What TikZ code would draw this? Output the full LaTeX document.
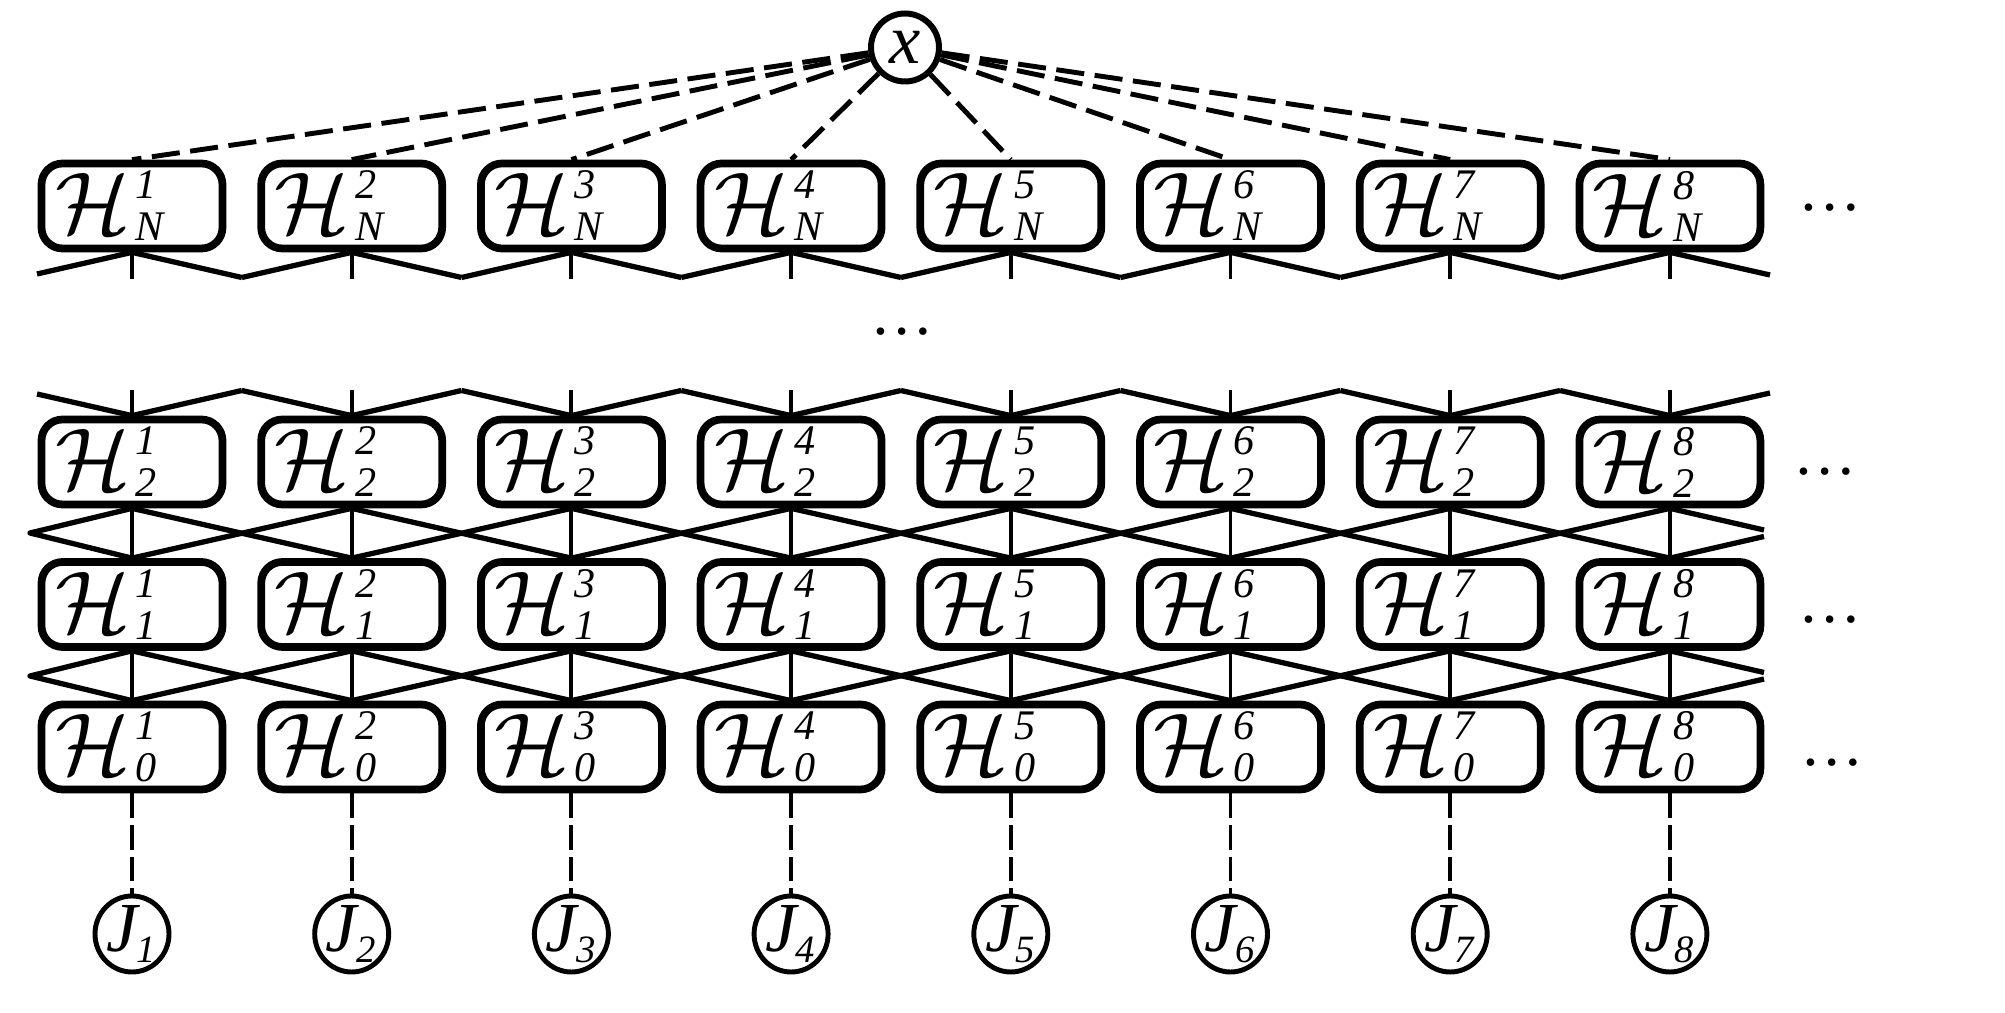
\RequirePackage{fix-cm}
\documentclass[tikz,border=0pt]{standalone}
\usepackage{amsmath}
\usepackage{fontspec}
\setmainfont{Liberation Serif}
\usetikzlibrary{shapes.geometric}
\DeclareMathSizes{20}{20}{11}{8}
\newcommand{\scriptlab}{\fontsize{12}{12}\selectfont\itshape}
\newcommand{\Hlab}[2]{\makebox[1.7cm][l]{\hspace{0.08cm}\raisebox{-0.05cm}{$\mathcal{H}$\kern1.5pt\rlap{\raisebox{0.35cm}{\scriptlab #1}}\raisebox{-0.07cm}{\scriptlab #2}}}}
\tikzset{
    hbox/.style={draw, rectangle, rounded corners=6pt, line width=2.2pt, minimum width=1.81cm, minimum height=0.85cm, inner sep=0pt, font=\fontsize{25}{29}\selectfont},
    xnode/.style={draw, circle, line width=1.7pt, minimum size=0.68cm, inner sep=0pt, font=\fontsize{20}{24}\selectfont\itshape},
    jnode/.style={draw, ellipse, line width=1.4pt, minimum width=0.74cm, minimum height=0.76cm, inner sep=-0.07cm, font=\fontsize{20}{24}\selectfont},
    dotsbox/.style={inner sep=0pt, font=\fontsize{18}{20}\selectfont},
    xdash/.style={line width=1.4pt, dash pattern=on 8pt off 3pt},
    jdash/.style={line width=1.1pt, dash pattern=on 7pt off 2pt},
    vlink/.style={line width=1.1pt},
    xlink/.style={line width=1.5pt, line join=round},
}
\begin{document}
\begin{tikzpicture}
    \useasboundingbox (0,0) rectangle (20.05,10.13);

    % === input ===
    \node[xnode] (x) at (9.05, 9.655) {x};

    % === layers N, 2, 1, 0 ===
    \foreach \r/\y in {N/8.07, 2/5.51, 1/4.085, 0/2.66} {
        \foreach \i in {1,...,8} {
            \node[hbox] (h\r-\i) at ({1.32+2.197*(\i-1)}, \y) {\Hlab{\i}{\r}};
        }
    }

    % dots
    \node[dotsbox] (dN) at (18.30, 8.05) {\dots};
    \node[dotsbox] (dmid) at (9.02, 6.81) {\dots};
    \node[dotsbox] (d2) at (18.25, 5.41) {\dots};
    \node[dotsbox] (d1) at (18.30, 3.93) {\dots};
    \node[dotsbox] (d0) at (18.32, 2.50) {\dots};

    % x to top layer
    \foreach \i in {1,...,8} \draw[xdash] (x) -- (hN-\i.north);

    % === outputs ===
    \foreach \i in {1,...,8} {
        \node[jnode] (J\i) at ({1.32+2.197*(\i-1)}, 0.79) {\textit{J}\kern-1pt$_{\text{\itshape\i}}$};
        \draw[jdash] (h0-\i.south) -- (J\i);
    }

    % cut ends below layer N and above layer 2
    \foreach \i in {1,...,8} {
        \coordinate (tN-\i) at ({1.32+2.197*(\i-1)}, 7.34);
        \coordinate (t2-\i) at ({1.32+2.197*(\i-1)}, 6.23);
    }
    \foreach \i in {1,...,7} {
        \coordinate (mN-\i) at ({1.32+2.197*(\i-0.5)}, 7.355);
        \coordinate (m2-\i) at ({1.32+2.197*(\i-0.5)}, 6.225);
    }
    \coordinate (mN-0) at (0.37, 7.39);
    \coordinate (mN-8) at (17.70, 7.38);
    \coordinate (m2-0) at (0.37, 6.19);
    \coordinate (m2-8) at (17.70, 6.20);
    \coordinate (L2) at (0.30, 4.80);
    \coordinate (L1) at (0.30, 3.37);
    \coordinate (Ra2) at (17.64, 4.83);
    \coordinate (Rb2) at (17.64, 4.765);
    \coordinate (Ra1) at (17.64, 3.405);
    \coordinate (Rb1) at (17.64, 3.34);

    \foreach \i [evaluate=\i as \j using int(\i-1)] in {1,...,8} {
        \draw[vlink] (hN-\i.south) -- (tN-\i);
        \draw[xlink] (mN-\j) -- (hN-\i.south) -- (mN-\i);
        \draw[vlink] (t2-\i) -- (h2-\i.north);
        \draw[xlink] (m2-\j) -- (h2-\i.north) -- (m2-\i);
    }

    % === links between layers ===
    \foreach \ru/\rl in {2/1, 1/0} {
        \foreach \i in {1,...,8} \draw[vlink] (h\ru-\i.south) -- (h\rl-\i.north);
        \foreach \i [evaluate=\i as \j using int(\i+1)] in {1,...,7} {
            \draw[xlink] (h\ru-\i.south) -- (h\rl-\j.north);
            \draw[xlink] (h\ru-\j.south) -- (h\rl-\i.north);
        }
        \draw[xlink] (h\ru-1.south) -- (L\ru) -- (h\rl-1.north);
        \draw[xlink] (h\ru-8.south) -- (Ra\ru);
        \draw[xlink] (Rb\ru) -- (h\rl-8.north);
    }
\end{tikzpicture}
\end{document}
